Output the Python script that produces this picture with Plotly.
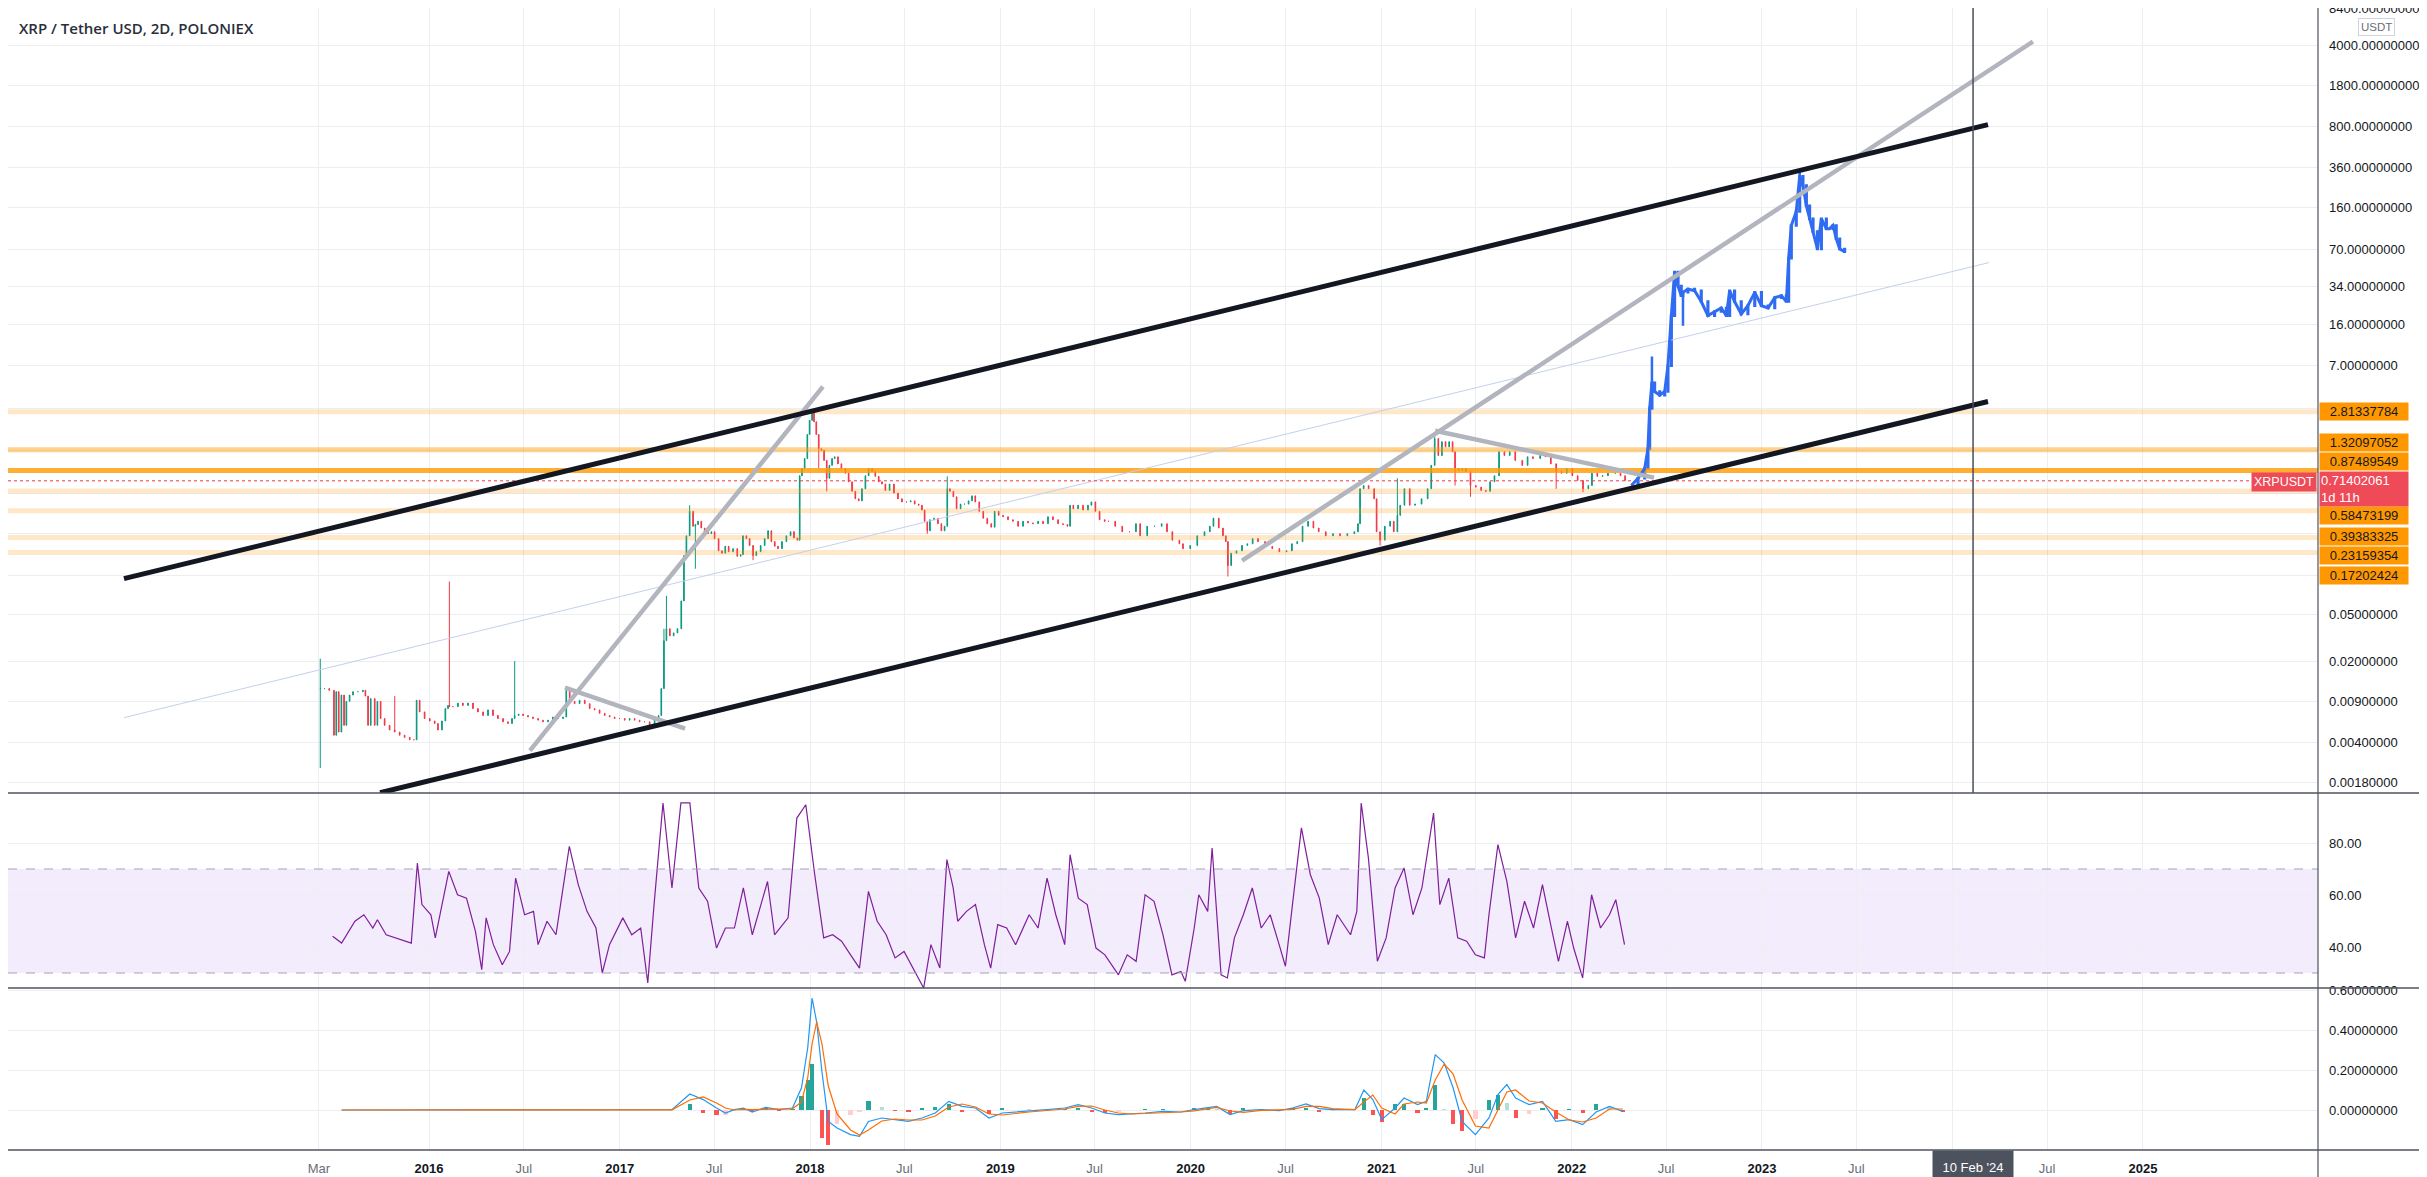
import numpy as np
import pandas as pd
import plotly.graph_objects as go

BASE = pd.Timestamp("2016-01-01")


def to_dt(ts):
    return [BASE + pd.Timedelta(days=(t - 2016.0) * 365.25) for t in ts]


# ---------------- data (time in decimal years) ----------------
X_LEFT, X_RIGHT = 2013.7889, 2025.9212

price_t = [
    2015.429, 2015.452, 2015.476, 2015.501, 2015.513, 2015.526, 2015.540, 2015.554, 2015.566, 2015.583,
    2015.601, 2015.627, 2015.653, 2015.666, 2015.680, 2015.694, 2015.715, 2015.729, 2015.746, 2015.767,
    2015.793, 2015.820, 2015.846, 2015.872, 2015.899, 2015.921, 2015.935, 2015.951, 2015.977, 2016.004,
    2016.030, 2016.047, 2016.068, 2016.086, 2016.100, 2016.107, 2016.126, 2016.152, 2016.178, 2016.205,
    2016.231, 2016.257, 2016.284, 2016.310, 2016.336, 2016.362, 2016.389, 2016.415, 2016.436, 2016.450,
    2016.471, 2016.494, 2016.520, 2016.546, 2016.573, 2016.599, 2016.625, 2016.651, 2016.678, 2016.704,
    2016.721, 2016.739, 2016.765, 2016.791, 2016.818, 2016.844, 2016.870, 2016.896, 2016.923, 2016.949,
    2016.975, 2017.001, 2017.028, 2017.054, 2017.080, 2017.106, 2017.133, 2017.159, 2017.185, 2017.206,
    2017.220, 2017.234, 2017.247, 2017.265, 2017.285, 2017.305, 2017.325, 2017.339, 2017.352, 2017.369,
    2017.387, 2017.399, 2017.413, 2017.430, 2017.448, 2017.465, 2017.483, 2017.500, 2017.521, 2017.539,
    2017.556, 2017.574, 2017.597, 2017.619, 2017.637, 2017.649, 2017.667, 2017.684, 2017.702, 2017.719,
    2017.742, 2017.763, 2017.781, 2017.798, 2017.816, 2017.833, 2017.854, 2017.877, 2017.899, 2017.917,
    2017.935, 2017.947, 2017.959, 2017.973, 2017.987, 2017.999, 2018.012, 2018.022, 2018.034, 2018.047,
    2018.061, 2018.075, 2018.089, 2018.103, 2018.117, 2018.131, 2018.148, 2018.166, 2018.187, 2018.204,
    2018.222, 2018.239, 2018.257, 2018.274, 2018.292, 2018.309, 2018.327, 2018.344, 2018.362, 2018.379,
    2018.397, 2018.419, 2018.442, 2018.463, 2018.484, 2018.507, 2018.530, 2018.551, 2018.572, 2018.589,
    2018.603, 2018.617, 2018.631, 2018.652, 2018.673, 2018.691, 2018.708, 2018.722, 2018.736, 2018.754,
    2018.771, 2018.792, 2018.813, 2018.834, 2018.852, 2018.869, 2018.890, 2018.911, 2018.932, 2018.953,
    2018.971, 2018.992, 2019.015, 2019.041, 2019.067, 2019.094, 2019.120, 2019.146, 2019.172, 2019.199,
    2019.225, 2019.251, 2019.277, 2019.304, 2019.330, 2019.353, 2019.367, 2019.384, 2019.409, 2019.435,
    2019.461, 2019.479, 2019.500, 2019.522, 2019.549, 2019.570, 2019.604, 2019.641, 2019.679, 2019.713, 2019.735,
    2019.772, 2019.810, 2019.848, 2019.876, 2019.904, 2019.941, 2019.960, 2019.998, 2020.035, 2020.073,
    2020.101, 2020.120, 2020.148, 2020.170, 2020.185, 2020.196, 2020.213, 2020.241, 2020.270, 2020.298,
    2020.326, 2020.354, 2020.391, 2020.429, 2020.466, 2020.504, 2020.532, 2020.560, 2020.588, 2020.617,
    2020.645, 2020.673, 2020.710, 2020.748, 2020.785, 2020.823, 2020.860, 2020.879, 2020.890, 2020.909,
    2020.935, 2020.964, 2020.977, 2020.995, 2021.020, 2021.048, 2021.067, 2021.086, 2021.101, 2021.123,
    2021.151, 2021.179, 2021.213, 2021.245, 2021.264, 2021.282, 2021.301, 2021.320, 2021.339, 2021.358,
    2021.376, 2021.389, 2021.408, 2021.427, 2021.446, 2021.470, 2021.498, 2021.526, 2021.551, 2021.573,
    2021.596, 2021.620, 2021.648, 2021.676, 2021.705, 2021.742, 2021.770, 2021.798, 2021.836, 2021.864,
    2021.892, 2021.920, 2021.948, 2021.976, 2022.005, 2022.033, 2022.061, 2022.089, 2022.108, 2022.136,
    2022.164, 2022.192, 2022.230, 2022.258, 2022.282,
]
price_c = [
    0.0116, 0.0116, 0.0112, 0.0046, 0.0109, 0.0049, 0.0102, 0.0056, 0.0090, 0.0102,
    0.0109, 0.0109, 0.0112, 0.0100, 0.0056, 0.0095, 0.0056, 0.0090, 0.0064, 0.0056,
    0.0051, 0.0049, 0.0046, 0.0044, 0.0042, 0.0042, 0.0092, 0.0073, 0.0064, 0.0061,
    0.0058, 0.0051, 0.0061, 0.0078, 0.0083, 0.0081, 0.0081, 0.0087, 0.0083, 0.0087,
    0.0078, 0.0073, 0.0068, 0.0076, 0.0068, 0.0064, 0.0060, 0.0058, 0.0064, 0.0068,
    0.0070, 0.0068, 0.0066, 0.0064, 0.0062, 0.0060, 0.0062, 0.0066, 0.0064, 0.0066,
    0.0112, 0.0090, 0.0086, 0.0092, 0.0086, 0.0078, 0.0076, 0.0071, 0.0068, 0.0066,
    0.0064, 0.0064, 0.0062, 0.0064, 0.0062, 0.0060, 0.0060, 0.0056, 0.0062, 0.0068,
    0.0116, 0.030, 0.038, 0.033, 0.035, 0.038, 0.066, 0.162, 0.24, 0.39,
    0.29, 0.30, 0.32, 0.28, 0.26, 0.25, 0.26, 0.227, 0.178, 0.17,
    0.195, 0.175, 0.186, 0.16, 0.165, 0.24, 0.227, 0.198, 0.162, 0.175,
    0.198, 0.227, 0.265, 0.214, 0.195, 0.186, 0.214, 0.24, 0.26, 0.23,
    0.22, 0.79, 0.91, 1.11, 1.79, 2.37, 2.75, 2.30, 1.79, 1.35,
    1.31, 1.07, 0.75, 0.97, 1.11, 1.15, 1.00, 0.91, 0.83, 0.70,
    0.58, 0.50, 0.48, 0.61, 0.79, 0.91, 0.86, 0.78, 0.70, 0.67,
    0.59, 0.67, 0.56, 0.50, 0.47, 0.47, 0.48, 0.45, 0.44, 0.40,
    0.32, 0.265, 0.33, 0.34, 0.305, 0.265, 0.29, 0.61, 0.58, 0.52,
    0.41, 0.45, 0.45, 0.48, 0.53, 0.47, 0.39, 0.34, 0.305, 0.285,
    0.39, 0.36, 0.35, 0.33, 0.32, 0.29, 0.32, 0.31, 0.305, 0.32,
    0.305, 0.35, 0.33, 0.305, 0.30, 0.29, 0.44, 0.41, 0.44, 0.40,
    0.44, 0.47, 0.39, 0.33, 0.32, 0.32, 0.29, 0.26, 0.26, 0.305, 0.24,
    0.29, 0.29, 0.305, 0.26, 0.22, 0.205, 0.186, 0.198, 0.24, 0.26,
    0.29, 0.34, 0.28, 0.24, 0.214, 0.133, 0.17, 0.178, 0.198, 0.205,
    0.227, 0.214, 0.195, 0.186, 0.175, 0.178, 0.205, 0.214, 0.29, 0.32,
    0.28, 0.26, 0.24, 0.25, 0.24, 0.25, 0.26, 0.305, 0.61, 0.65,
    0.61, 0.50, 0.26, 0.22, 0.29, 0.32, 0.26, 0.36, 0.44, 0.61,
    0.44, 0.45, 0.50, 0.61, 0.97, 1.65, 1.18, 1.55, 1.40, 1.55,
    1.27, 0.91, 0.88, 0.91, 0.86, 0.65, 0.63, 0.59, 0.58, 0.70,
    0.79, 1.27, 1.18, 1.27, 1.07, 0.97, 1.15, 1.11, 1.18, 1.15,
    1.00, 0.86, 0.83, 0.91, 0.79, 0.72, 0.61, 0.65, 0.83, 0.78,
    0.79, 0.83, 0.83, 0.79, 0.72,
]
wick_hi_t = [2015.429, 2015.820, 2016.107, 2016.450, 2017.234, 2017.247, 2017.369, 2018.012, 2018.722, 2021.086, 2021.282]
wick_hi_v = [0.021, 0.0100, 0.097, 0.020, 0.038, 0.073, 0.44, 2.87, 0.78, 0.75, 1.71]
wick_lo_t = [2015.429, 2017.399, 2017.702, 2018.047, 2018.089, 2018.617, 2020.196, 2020.995, 2021.389, 2021.470, 2021.920, 2022.061]
wick_lo_v = [0.0024, 0.125, 0.148, 0.91, 0.58, 0.25, 0.107, 0.198, 0.65, 0.52, 0.61, 0.57]

# projected (bars pattern) series
proj_t = [
    2022.315, 2022.350, 2022.385, 2022.402, 2022.411, 2022.423, 2022.437, 2022.464, 2022.490, 2022.507,
    2022.525, 2022.542, 2022.560, 2022.577, 2022.586, 2022.612, 2022.647, 2022.682, 2022.717, 2022.752,
    2022.787, 2022.814, 2022.831, 2022.857, 2022.892, 2022.927, 2022.963, 2022.998, 2023.033, 2023.068,
    2023.103, 2023.129, 2023.141, 2023.155, 2023.181, 2023.199, 2023.216, 2023.234, 2023.251, 2023.269,
    2023.292, 2023.313, 2023.339, 2023.356, 2023.374, 2023.391, 2023.409, 2023.435,
]
proj_c = [
    0.65, 0.75, 0.91, 1.35, 3.0, 5.0, 4.2, 3.9, 4.2, 7.0,
    18.9, 45, 34, 28, 30, 32, 31, 25, 18.9, 20.5,
    22, 18.9, 31, 25, 19.5, 23, 30, 23, 22, 27,
    28, 25, 59, 113, 149, 300, 249, 167, 129, 100,
    71, 129, 106, 106, 113, 87, 71, 67,
]
proj_hi_t = [2022.423, 2023.199]
proj_hi_v = [8.4, 336]
proj_lo_t = [2022.586]
proj_lo_v = [15.5]

# horizontal levels
levels = [2.81337784, 1.32097052, 0.87489549, 0.58473199, 0.39383325, 0.23159354, 0.17202424]
last_price = 0.71402061
last_countdown = "1d 11h"
symbol = "XRPUSDT"

# trend lines: (t0, p0, t1, p1)
channel_upper = [2014.398, 0.1026, 2024.188, 835.0]
channel_lower = [2015.743, 0.00147, 2024.188, 3.44]
thin_line = [2014.398, 0.00652, 2024.193, 54.1]
gray_lines = [
    [2016.530, 0.00339, 2018.069, 4.62],
    [2016.714, 0.01183, 2017.345, 0.00524],
    [2020.270, 0.1466, 2024.424, 4335.0],
    [2021.284, 1.93, 2022.434, 0.760],
]
marker_date = "2024-02-10"
marker_label = "10 Feb '24"

# RSI
rsi_t = [
    2015.494, 2015.541, 2015.611, 2015.658, 2015.705, 2015.729, 2015.775, 2015.907, 2015.939, 2015.963,
    2016.010, 2016.033, 2016.104, 2016.150, 2016.197, 2016.244, 2016.277, 2016.300, 2016.338, 2016.385,
    2016.423, 2016.455, 2016.502, 2016.549, 2016.573, 2016.620, 2016.667, 2016.737, 2016.784, 2016.830,
    2016.877, 2016.910, 2016.948, 2017.018, 2017.065, 2017.112, 2017.149, 2017.182, 2017.229, 2017.276,
    2017.323, 2017.370, 2017.417, 2017.463, 2017.510, 2017.557, 2017.604, 2017.651, 2017.698, 2017.778,
    2017.815, 2017.886, 2017.932, 2017.979, 2018.026, 2018.073, 2018.120, 2018.167, 2018.214, 2018.261,
    2018.308, 2018.354, 2018.401, 2018.448, 2018.495, 2018.542, 2018.598, 2018.636, 2018.683, 2018.720,
    2018.753, 2018.777, 2018.823, 2018.870, 2018.917, 2018.950, 2018.987, 2019.034, 2019.081, 2019.152,
    2019.199, 2019.246, 2019.292, 2019.339, 2019.367, 2019.410, 2019.457, 2019.503, 2019.550, 2019.621,
    2019.667, 2019.714, 2019.761, 2019.808, 2019.855, 2019.902, 2019.949, 2019.972, 2020.019, 2020.043,
    2020.090, 2020.113, 2020.160, 2020.193, 2020.230, 2020.277, 2020.324, 2020.371, 2020.418, 2020.465,
    2020.498, 2020.535, 2020.582, 2020.629, 2020.676, 2020.723, 2020.770, 2020.840, 2020.873, 2020.896,
    2020.934, 2020.981, 2021.027, 2021.074, 2021.121, 2021.168, 2021.215, 2021.276, 2021.309, 2021.356,
    2021.403, 2021.450, 2021.496, 2021.543, 2021.567, 2021.614, 2021.661, 2021.707, 2021.754, 2021.801,
    2021.848, 2021.895, 2021.932, 2021.979, 2022.012, 2022.059, 2022.106, 2022.153, 2022.200, 2022.233,
    2022.279,
]
rsi_v = [
    44.1, 41.5, 49.9, 52.4, 47.3, 50.5, 44.7, 41.5, 72.3, 56.3,
    52.4, 43.5, 69.1, 60.1, 58.8, 46.0, 31.3, 51.2, 40.9, 33.2,
    38.3, 66.5, 52.4, 53.7, 40.9, 49.9, 44.7, 78.7, 64.0, 53.7,
    47.3, 30.0, 40.9, 51.2, 44.7, 47.3, 26.2, 56.3, 95.4, 62.7,
    95.4, 95.4, 62.7, 57.6, 39.6, 47.3, 47.3, 62.7, 44.7, 65.2,
    44.7, 51.2, 89.6, 94.7, 67.8, 43.5, 44.7, 42.2, 37.0, 31.9,
    61.4, 49.9, 44.7, 35.8, 38.3, 31.9, 24.2, 40.9, 31.9, 73.6,
    62.7, 49.9, 53.7, 56.3, 40.9, 31.9, 48.6, 47.3, 40.9, 52.4,
    47.3, 66.5, 52.4, 40.9, 75.5, 58.8, 56.3, 39.6, 37.0, 29.3,
    37.0, 34.5, 60.1, 57.6, 44.7, 29.3, 30.6, 26.8, 47.3, 60.1,
    53.7, 78.1, 29.3, 28.1, 43.5, 52.4, 62.7, 47.3, 52.4, 40.9,
    32.6, 56.3, 85.8, 67.8, 58.8, 40.9, 52.4, 44.7, 53.7, 95.4,
    74.2, 34.5, 43.5, 62.7, 70.4, 52.4, 62.7, 91.5, 56.3, 66.5,
    43.5, 42.2, 37.0, 35.8, 52.4, 79.4, 65.2, 43.5, 57.6, 47.3,
    64.0, 47.3, 34.5, 49.9, 39.6, 28.1, 60.1, 47.3, 52.4, 58.2,
    40.9,
]

# MACD
macd_t = [
    2015.541, 2017.229, 2017.276, 2017.370, 2017.440, 2017.510, 2017.557, 2017.604, 2017.651, 2017.698,
    2017.768, 2017.839, 2017.909, 2017.956, 2017.989, 2018.012, 2018.036, 2018.064, 2018.097, 2018.143,
    2018.214, 2018.261, 2018.308, 2018.378, 2018.448, 2018.518, 2018.589, 2018.659, 2018.730, 2018.800,
    2018.870, 2018.941, 2019.011, 2019.152, 2019.246, 2019.339, 2019.410, 2019.480, 2019.550, 2019.621,
    2019.691, 2019.761, 2019.855, 2019.949, 2020.019, 2020.090, 2020.137, 2020.207, 2020.277, 2020.371,
    2020.465, 2020.535, 2020.606, 2020.676, 2020.746, 2020.863, 2020.910, 2020.957, 2021.004, 2021.074,
    2021.121, 2021.192, 2021.238, 2021.285, 2021.332, 2021.379, 2021.426, 2021.496, 2021.567, 2021.614,
    2021.661, 2021.707, 2021.778, 2021.848, 2021.918, 2021.989, 2022.059, 2022.130, 2022.200, 2022.270,
]
macd_v = [
    0, 0, 0.002, 0.08, 0.052, 0.01, -0.015, 0.002, 0.01, -0.01,
    0.013, 0.002, 0.01, 0.11, 0.31, 0.56, 0.44, 0.19, -0.057, -0.09,
    -0.123, -0.132, -0.057, -0.04, -0.048, -0.057, -0.04, -0.015, 0.043, 0.018,
    0.01, -0.04, -0.015, -0.007, 0.002, 0.01, 0.027, 0.01, -0.015, -0.023,
    -0.02, -0.015, -0.007, -0.01, 0.002, 0.013, 0.018, -0.023, -0.003, 0.002,
    -0.003, 0.01, 0.03, 0.007, 0.002, 0.002, 0.10, 0.052, -0.048, 0.01,
    0.06, 0.027, 0.043, 0.277, 0.235, 0.11, -0.057, -0.123, -0.04, 0.077,
    0.127, 0.06, 0.027, 0.043, -0.057, -0.048, -0.073, -0.01, 0.018, -0.007,
]
signal_v = [
    0, 0, 0.001, 0.05, 0.065, 0.035, 0.01, 0.0, 0.003, 0.002,
    0.003, 0.006, 0.006, 0.04, 0.16, 0.33, 0.44, 0.33, 0.12, -0.02,
    -0.10, -0.125, -0.10, -0.055, -0.045, -0.05, -0.05, -0.03, 0.015, 0.03,
    0.015, -0.02, -0.025, -0.01, -0.002, 0.005, 0.018, 0.02, 0.0, -0.015,
    -0.02, -0.018, -0.012, -0.01, -0.004, 0.006, 0.013, -0.005, -0.012, -0.002,
    -0.001, 0.003, 0.018, 0.018, 0.007, 0.002, 0.04, 0.075, 0.01, -0.02,
    0.03, 0.04, 0.035, 0.15, 0.23, 0.18, 0.05, -0.08, -0.09, 0.0,
    0.09, 0.1, 0.045, 0.035, -0.01, -0.05, -0.06, -0.04, 0.005, 0.005,
]

# axis ticks
x_tick_t = [2015.422]
x_tick_dates = ["2016-01-01", "2016-07-01", "2017-01-01", "2017-07-01", "2018-01-01", "2018-07-01",
                "2019-01-01", "2019-07-01", "2020-01-01", "2020-07-01", "2021-01-01", "2021-07-01",
                "2022-01-01", "2022-07-01", "2023-01-01", "2023-07-01", "2024-01-01", "2024-07-01",
                "2025-01-01"]
x_tick_text = ["Mar", "2016", "Jul", "2017", "Jul", "2018", "Jul", "2019", "Jul", "2020", "Jul",
               "2021", "Jul", "2022", "Jul", "2023", "Jul", "", "Jul", "2025"]
price_ticks = [8400, 4000, 1800, 800, 360, 160, 70, 34, 16, 7, 0.05, 0.02, 0.009, 0.004, 0.0018]
price_hidden_ticks = [3.0, 1.3, 0.55, 0.25, 0.11]
rsi_ticks = [80, 60, 40]
rsi_band = [30, 70]
macd_ticks = [0.6, 0.4, 0.2, 0.0]

# ---------------- styles ----------------
W, H = 2427, 1177
M_R, M_B = 117, 35
PLOT_H = H - M_B
D_PRICE = [1 - 785 / PLOT_H, 1]
D_RSI = [1 - 980 / PLOT_H, D_PRICE[0]]
D_MACD = [0, D_RSI[0]]
FONT = "Liberation Sans"
TXT = "#131722"
GRID = "#eceef2"
SEP = "#50535e"
UP, DOWN = "#089981", "#f23645"
BLUE = "#2f6cf2"
level_alpha = [0.22, 0.45, 0.8, 0.22, 0.22, 0.22, 0.22]
label_shift = [0, 7, 9, -25, -26, -18, -23]

x_range = to_dt([X_LEFT, X_RIGHT])


def ohlc(ts, cs, hi_t, hi_v, lo_t, lo_v):
    hi = dict(zip(hi_t, hi_v))
    lo = dict(zip(lo_t, lo_v))
    o = [cs[0]] + list(cs[:-1])
    h = [max(a, b, hi.get(t, 0)) for t, a, b in zip(ts, o, cs)]
    l = [min(a, b, lo.get(t, 1e9)) for t, a, b in zip(ts, o, cs)]
    return o, h, l


fig = go.Figure()

# horizontal orange levels
for lvl, a in zip(levels, level_alpha):
    fig.add_trace(go.Scatter(x=x_range, y=[lvl, lvl], mode="lines",
                             line=dict(color=f"rgba(255,152,0,{a})", width=5),
                             hoverinfo="skip", showlegend=False, xaxis="x", yaxis="y"))

# thin light-blue line
fig.add_trace(go.Scatter(x=to_dt([thin_line[0], thin_line[2]]), y=[thin_line[1], thin_line[3]],
                         mode="lines", line=dict(color="#c3d0ee", width=1),
                         hoverinfo="skip", showlegend=False, xaxis="x", yaxis="y"))

# current price dotted line
fig.add_trace(go.Scatter(x=x_range, y=[last_price, last_price], mode="lines",
                         line=dict(color=DOWN, width=1, dash="dot"),
                         hoverinfo="skip", showlegend=False, xaxis="x", yaxis="y"))

# candles
o, h, l = ohlc(price_t, price_c, wick_hi_t, wick_hi_v, wick_lo_t, wick_lo_v)
fig.add_trace(go.Candlestick(x=to_dt(price_t), open=o, high=h, low=l, close=price_c,
                             increasing=dict(line=dict(color=UP, width=1), fillcolor=UP),
                             decreasing=dict(line=dict(color=DOWN, width=1), fillcolor=DOWN),
                             whiskerwidth=0, showlegend=False, xaxis="x", yaxis="y"))

# projection
po, ph, pl = ohlc(proj_t, proj_c, proj_hi_t, proj_hi_v, proj_lo_t, proj_lo_v)
fig.add_trace(go.Scatter(x=to_dt(proj_t), y=proj_c, mode="lines",
                         line=dict(color=BLUE, width=3),
                         hoverinfo="skip", showlegend=False, xaxis="x", yaxis="y"))
fig.add_trace(go.Candlestick(x=to_dt(proj_t), open=po, high=ph, low=pl, close=proj_c,
                             increasing=dict(line=dict(color=BLUE, width=2.5), fillcolor=BLUE),
                             decreasing=dict(line=dict(color=BLUE, width=2.5), fillcolor=BLUE),
                             whiskerwidth=0, showlegend=False, xaxis="x", yaxis="y"))

# gray trend lines
for g in gray_lines:
    fig.add_trace(go.Scatter(x=to_dt([g[0], g[2]]), y=[g[1], g[3]], mode="lines",
                             line=dict(color="#b2b5be", width=4.5),
                             hoverinfo="skip", showlegend=False, xaxis="x", yaxis="y"))
# black channel
for c in (channel_upper, channel_lower):
    fig.add_trace(go.Scatter(x=to_dt([c[0], c[2]]), y=[c[1], c[3]], mode="lines",
                             line=dict(color="#131722", width=5),
                             hoverinfo="skip", showlegend=False, xaxis="x", yaxis="y"))

# RSI
fig.add_trace(go.Scatter(x=to_dt(rsi_t), y=rsi_v, mode="lines",
                         line=dict(color="#7f1f9b", width=1.2),
                         hoverinfo="skip", showlegend=False, xaxis="x2", yaxis="y2"))

# MACD
hist = [m - s for m, s in zip(macd_v, signal_v)]
hcol = []
for i, v in enumerate(hist):
    prev = hist[i - 1] if i > 0 else 0
    if v >= 0:
        hcol.append("#26a69a" if v >= prev else "#b2dfdb")
    else:
        hcol.append("#ff5252" if v < prev else "#ffcdd2")
fig.add_trace(go.Bar(x=to_dt(macd_t), y=hist, marker=dict(color=hcol, line=dict(width=0)),
                     width=8 * 86400000, showlegend=False, hoverinfo="skip",
                     xaxis="x3", yaxis="y3"))
fig.add_trace(go.Scatter(x=to_dt(macd_t), y=macd_v, mode="lines",
                         line=dict(color="#2196f3", width=1.2),
                         hoverinfo="skip", showlegend=False, xaxis="x3", yaxis="y3"))
fig.add_trace(go.Scatter(x=to_dt(macd_t), y=signal_v, mode="lines",
                         line=dict(color="#ff6d00", width=1.2),
                         hoverinfo="skip", showlegend=False, xaxis="x3", yaxis="y3"))

# ---------------- axes ----------------
tick_x = to_dt(x_tick_t) + [pd.Timestamp(d) for d in x_tick_dates]
tick_txt = []
for s in x_tick_text:
    if s.isdigit():
        tick_txt.append(f"<b>{s}</b>")
    elif s:
        tick_txt.append(f'<span style="color:#6a6d78">{s}</span>')
    else:
        tick_txt.append("")

xcommon = dict(type="date", range=x_range, tickvals=tick_x, showgrid=True, gridcolor=GRID,
               gridwidth=1, zeroline=False, showline=False, fixedrange=True)
ycommon = dict(side="right", showgrid=True, gridcolor=GRID, gridwidth=1, zeroline=False,
               showline=False, ticks="", ticklabelstandoff=10, automargin=False,
               ticklabeloverflow="allow",
               tickfont=dict(family=FONT, size=13, color=TXT), fixedrange=True)

p_vals = price_ticks + price_hidden_ticks
p_text = [f"{v:.8f}" for v in price_ticks] + [""] * len(price_hidden_ticks)

fig.update_layout(
    width=W, height=H,
    margin=dict(l=0, r=M_R, t=0, b=M_B),
    paper_bgcolor="white", plot_bgcolor="white",
    showlegend=False, bargap=0,
    xaxis=dict(**xcommon, domain=[0, 1], anchor="y", showticklabels=False,
               rangeslider=dict(visible=False)),
    xaxis2=dict(**xcommon, domain=[0, 1], anchor="y2", matches="x", showticklabels=False),
    xaxis3=dict(**xcommon, domain=[0, 1], anchor="y3", matches="x", showticklabels=True,
                ticktext=tick_txt, ticks="", ticklabelstandoff=9,
                tickfont=dict(family=FONT, size=13, color=TXT)),
    yaxis=dict(**ycommon, domain=D_PRICE, anchor="x", type="log",
               range=[-2.835, 3.926], tickvals=p_vals, ticktext=p_text),
    yaxis2=dict(**ycommon, domain=D_RSI, anchor="x2", range=[24.23, 99.23],
                tickvals=rsi_ticks, ticktext=[f"{v:.2f}" for v in rsi_ticks]),
    yaxis3=dict(**ycommon, domain=D_MACD, anchor="x3", range=[-0.2, 0.61],
                tickvals=macd_ticks, ticktext=[f"{v:.8f}" for v in macd_ticks]),
)

# ---------------- shapes ----------------
shapes = []
shapes.append(dict(type="rect", xref="paper", x0=0, x1=1, yref="y2", y0=rsi_band[0], y1=rsi_band[1],
                   fillcolor="rgba(149,80,230,0.11)", line=dict(width=0), layer="below"))
for b in rsi_band:
    shapes.append(dict(type="line", xref="paper", x0=0, x1=1, yref="y2", y0=b, y1=b,
                       line=dict(color="#a7a1b8", width=1, dash="dash")))
shapes.append(dict(type="line", xref="x", x0=pd.Timestamp(marker_date), x1=pd.Timestamp(marker_date),
                   yref="y domain", y0=0, y1=1, line=dict(color="#4a4e59", width=1.5)))
for yb in (D_PRICE[0], D_RSI[0], 0):
    shapes.append(dict(type="line", xref="paper", x0=0, x1=W / (W - M_R), yref="paper", y0=yb, y1=yb,
                       line=dict(color=SEP, width=1.6)))
shapes.append(dict(type="line", xref="paper", x0=1, x1=1, yref="paper", y0=-M_B / PLOT_H, y1=1,
                   line=dict(color=SEP, width=1.2)))
fig.update_layout(shapes=shapes)

# ---------------- annotations ----------------
ann = []
ann.append(dict(text="XRP / Tether USD, 2D, POLONIEX", xref="paper", yref="paper", x=0, y=1,
                xanchor="left", yanchor="middle", xshift=9, yshift=-20, showarrow=False,
                font=dict(family="Open Sans", size=15, color="#2a2e39", weight=600)))
ann.append(dict(text="USDT", xref="paper", yref="paper", x=1, y=1, xanchor="center", yanchor="middle",
                xshift=58, yshift=-19, showarrow=False, bgcolor="white", bordercolor="#d1d4dc",
                borderwidth=1, borderpad=2, font=dict(family=FONT, size=11.5, color="#6a6d78")))
for lvl, sh in zip(levels, label_shift):
    ann.append(dict(text=f"{lvl:.8f}", xref="paper", yref="y", x=1, y=float(np.log10(lvl)),
                    xanchor="left", yanchor="middle", xshift=1, yshift=sh, showarrow=False,
                    bgcolor="#ff9800", borderpad=1, width=86, align="center",
                    font=dict(family=FONT, size=13, color=TXT)))
ann.append(dict(text=f"{last_price:.8f}<br>{last_countdown}", xref="paper", yref="y", x=1,
                y=float(np.log10(last_price)), xanchor="left", yanchor="middle", xshift=1, yshift=-8,
                showarrow=False, bgcolor="#ef4a58", borderpad=1, width=86, align="left",
                font=dict(family=FONT, size=13, color="white")))
ann.append(dict(text=symbol, xref="paper", yref="y", x=1, y=float(np.log10(last_price)),
                xanchor="right", yanchor="middle", xshift=-1, yshift=-1, showarrow=False,
                bgcolor="#ef4a58", borderpad=2, font=dict(family=FONT, size=12.5, color="white")))
ann.append(dict(text=marker_label, xref="x3", yref="paper", x=pd.Timestamp(marker_date), y=0,
                xanchor="center", yanchor="top", showarrow=False, bgcolor="#4c525e",
                width=78, height=30, borderpad=1, valign="middle",
                font=dict(family=FONT, size=13, color="white")))
fig.update_layout(annotations=ann)

fig.write_html("out.html")
